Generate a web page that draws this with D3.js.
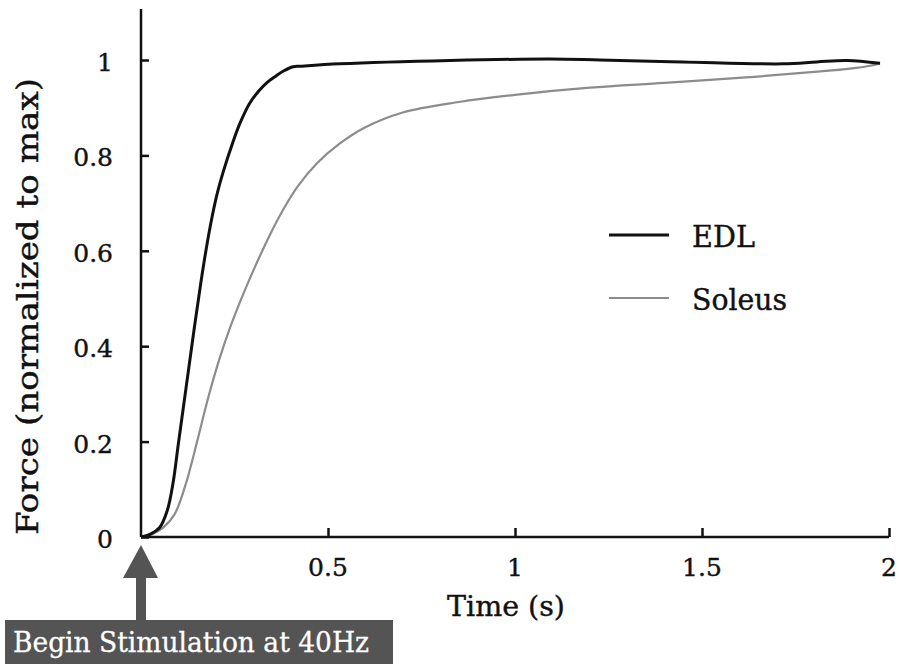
<!DOCTYPE html>
<html><head><meta charset="utf-8">
<script src="https://cdn.jsdelivr.net/npm/d3@7/dist/d3.min.js"></script>
<style>
body{margin:0;background:#fff;}
text{font-family:"DejaVu Serif",serif;fill:#111;stroke:#111;stroke-width:0.4px;}
</style></head>
<body><svg id="c" width="899" height="664"></svg>
<script>
const edlTime = [0, 0.025, 0.05, 0.07, 0.085, 0.1, 0.12, 0.14, 0.16, 0.175, 0.19, 0.205, 0.22, 0.245, 0.265, 0.291, 0.315, 0.336, 0.36, 0.381, 0.407, 0.425, 0.532, 0.826, 1.094, 1.227, 1.449, 1.717, 1.807, 1.888, 1.976];
const edlForce = [0, 0.006, 0.02, 0.055, 0.11, 0.196, 0.31, 0.424, 0.533, 0.607, 0.671, 0.724, 0.766, 0.826, 0.868, 0.91, 0.935, 0.952, 0.966, 0.977, 0.986, 0.987, 0.992, 0.999, 1.002, 1.0, 0.996, 0.992, 0.996, 0.999, 0.993];
const solTime = [0, 0.03, 0.06, 0.09, 0.12, 0.15, 0.18, 0.21, 0.24, 0.27, 0.30, 0.34, 0.38, 0.42, 0.47, 0.53, 0.6, 0.7, 0.85, 1.0, 1.2, 1.4, 1.628, 1.8, 1.896, 1.949, 1.976];
const solForce = [0, 0.006, 0.02, 0.048, 0.112, 0.2, 0.293, 0.374, 0.443, 0.503, 0.558, 0.626, 0.686, 0.736, 0.783, 0.824, 0.859, 0.89, 0.912, 0.927, 0.942, 0.952, 0.964, 0.975, 0.982, 0.988, 0.993];
const xTicks = [0.5, 1, 1.5, 2];
const xTickLabels = ["0.5", "1", "1.5", "2"];
const yTicks = [0, 0.2, 0.4, 0.6, 0.8, 1];
const yTickLabels = ["0", "0.2", "0.4", "0.6", "0.8", "1"];
const seriesNames = ["EDL", "Soleus"];
const seriesColors = ["#111", "#8c8c8c"];

const svg = d3.select("#c");
const x = d3.scaleLinear().domain([0, 2]).range([141, 889]);
const y = d3.scaleLinear().domain([0, 1]).range([537, 60]);

// lines
const line = d3.line().x(d => x(d[0])).y(d => y(d[1])).curve(d3.curveCatmullRom.alpha(0.5));
svg.append("path").datum(solTime.map((t, i) => [t, solForce[i]]))
  .attr("d", line).attr("fill", "none").attr("stroke", seriesColors[1]).attr("stroke-width", 2.2);
svg.append("path").datum(edlTime.map((t, i) => [t, edlForce[i]]))
  .attr("d", line).attr("fill", "none").attr("stroke", seriesColors[0]).attr("stroke-width", 3);

// axes
const ax = svg.append("g").attr("transform", `translate(0,${y(0)})`)
  .call(d3.axisTop(x).tickValues(xTicks).tickSize(9).tickFormat(""));
ax.select(".domain").attr("d", `M${x(0)},0H${x(2)}`).attr("stroke", "#111").attr("stroke-width", 2.5);
ax.selectAll(".tick line").attr("stroke", "#111").attr("stroke-width", 2.5);
svg.append("g").selectAll("text").data(xTicks).join("text")
  .attr("x", d => x(d)).attr("y", 576).attr("text-anchor", "middle")
  .style("font-size", "25px").text((d, i) => xTickLabels[i]);

const ay = svg.append("g").attr("transform", `translate(${x(0)},0)`)
  .call(d3.axisRight(y).tickValues(yTicks).tickSize(8).tickFormat(""));
ay.select(".domain").attr("d", `M0,${y(0)}V9`).attr("stroke", "#111").attr("stroke-width", 2.5);
ay.selectAll(".tick line").attr("stroke", "#111").attr("stroke-width", 2.5);
svg.append("g").selectAll("text").data(yTicks).join("text")
  .attr("x", 113).attr("y", d => y(d) + 11).attr("text-anchor", "end")
  .style("font-size", "25px").text((d, i) => yTickLabels[i]);

svg.append("text").attr("x", 447).attr("y", 616)
  .attr("textLength", 118).attr("lengthAdjust", "spacingAndGlyphs")
  .style("font-size", "28px").text("Time (s)");
svg.append("text").attr("transform", "translate(38,535) rotate(-90)")
  .attr("textLength", 457).attr("lengthAdjust", "spacingAndGlyphs")
  .style("font-size", "29px").text("Force (normalized to max)");

// legend
const lg = svg.append("g");
const legendW = [63, 95];
seriesNames.forEach((n, i) => {
  const ly = 235 + i * 63;
  lg.append("line").attr("x1", 609).attr("x2", 669).attr("y1", ly).attr("y2", ly)
    .attr("stroke", seriesColors[i]).attr("stroke-width", i === 0 ? 3 : 2.2);
  lg.append("text").attr("x", 692).attr("y", ly + 12)
    .attr("textLength", legendW[i]).attr("lengthAdjust", "spacingAndGlyphs")
    .style("font-size", "29px").text(n);
});

// annotation
const ann = svg.append("g");
ann.append("rect").attr("x", 5).attr("y", 620).attr("width", 388).attr("height", 44).attr("fill", "#545454");
ann.append("rect").attr("x", 136).attr("y", 575).attr("width", 10).attr("height", 46).attr("fill", "#545454");
ann.append("path").attr("d", `M${x(0)},545L158,578L123,578Z`).attr("fill", "#545454");
ann.append("text").attr("x", 13).attr("y", 652)
  .attr("textLength", 356).attr("lengthAdjust", "spacingAndGlyphs")
  .style("font-size", "27px").style("fill", "#fff").style("stroke", "#fff").style("stroke-width", "0.3px")
  .text("Begin Stimulation at 40Hz");
</script></body></html>
